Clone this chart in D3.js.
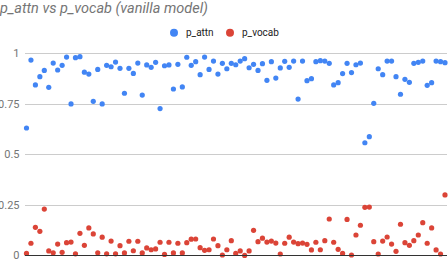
<!DOCTYPE html>
<head>
<meta charset="utf-8">
<script src="https://d3js.org/d3.v7.min.js"></script>
<style>
    body { margin: 0; background: #fff; }
    text { font-family: Roboto, Arial, sans-serif; }
</style>
</head>
<body>
<div id="chart"></div>
<script>
    // values, one per sample
    var pAttn = [0.63,0.966,0.843,0.884,0.915,0.831,0.951,0.917,0.940,0.981,
        0.749,0.978,0.983,0.906,0.897,0.762,0.920,0.749,0.940,0.933,
        0.956,0.925,0.802,0.925,0.900,0.951,0.793,0.942,0.930,0.955,
        0.726,0.938,0.942,0.823,0.945,0.833,0.980,0.940,0.958,0.894,
        0.981,0.920,0.961,0.897,0.950,0.923,0.950,0.943,0.961,0.973,
        0.928,0.945,0.915,0.948,0.866,0.958,0.877,0.927,0.960,0.930,
        0.961,0.773,0.961,0.864,0.874,0.958,0.963,0.961,0.950,0.843,
        0.854,0.899,0.950,0.904,0.943,0.951,0.557,0.587,0.752,0.923,
        0.894,0.961,0.961,0.884,0.797,0.871,0.856,0.950,0.955,0.961,
        0.841,0.854,0.961,0.958,0.953];
    var pVocab = [0.010,0.060,0.139,0.119,0.229,0.022,0.013,0.056,0.015,0.063,
        0.066,0.008,0.109,0.050,0.136,0.106,0.013,0.090,0.008,0.071,
        0.008,0.048,0.012,0.070,0.023,0.070,0.012,0.037,0.028,0.032,
        0.065,0.005,0.065,0.012,0.060,0.012,0.063,0.080,0.081,0.038,
        0.025,0.028,0.081,0.048,0.002,0.028,0.073,0.010,0.022,0.000,
        0.022,0.124,0.068,0.085,0.066,0.071,0.061,0.007,0.060,0.090,
        0.066,0.058,0.061,0.055,0.027,0.065,0.028,0.073,0.180,0.065,
        0.030,0.010,0.178,0.002,0.101,0.149,0.238,0.239,0.068,0.007,
        0.071,0.091,0.056,0.020,0.154,0.063,0.050,0.073,0.101,0.162,
        0.060,0.136,0.027,0.007,0.299];
    var yTicks = [0, 0.25, 0.5, 0.75, 1];
    var yTickLabels = ['0', '0.25', '0.5', '0.75', '1'];
    var seriesNames = ['p_attn', 'p_vocab'];
    var seriesColors = ['#4285f4', '#db4437'];

    var W = 448, H = 260;
    var svg = d3.select('#chart').append('svg').attr('width', W).attr('height', H);

    var x = d3.scaleLinear().domain([0, pAttn.length - 1]).range([26.5, 445]);
    var y = d3.scaleLinear().domain([0, 1]).range([255.4, 53.2]);

    // title
    svg.append('text').text('p_attn vs p_vocab (vanilla model)')
        .attr('x', 0).attr('y', 13)
        .attr('font-size', 14.5).attr('font-style', 'italic').attr('fill', '#757575');

    // legend
    var leg = svg.append('g');
    var legX = [174, 230];
    seriesNames.forEach(function(name, i){
        leg.append('circle').attr('cx', legX[i]).attr('cy', 32.7).attr('r', 4).attr('fill', seriesColors[i]);
        leg.append('text').text(name).attr('x', legX[i] + 12).attr('y', 36)
            .attr('font-size', 10).attr('fill', '#222');
    });

    // gridlines
    var grid = svg.append('g');
    grid.selectAll('line').data(yTicks.slice(1)).enter().append('line')
        .attr('x1', 25).attr('x2', 447)
        .attr('y1', d => Math.round(y(d)) + 0.5).attr('y2', d => Math.round(y(d)) + 0.5)
        .attr('stroke', '#ccc').attr('stroke-width', 1);

    // y axis labels
    svg.append('g').selectAll('text').data(yTicks).enter().append('text')
        .text((d, i) => yTickLabels[i])
        .attr('x', 19.5).attr('y', d => y(d) + 4)
        .attr('text-anchor', 'end').attr('font-size', 11).attr('fill', '#757575');

    // points
    var series = [pAttn, pVocab];
    series.forEach(function(vals, s){
        svg.append('g').selectAll('circle').data(vals).enter().append('circle')
            .attr('cx', (d, i) => x(i)).attr('cy', d => y(d))
            .attr('r', 2.6).attr('fill', seriesColors[s]);
    });

    // baseline
    svg.append('line').attr('x1', 25).attr('x2', 447)
        .attr('y1', 255.5).attr('y2', 255.5)
        .attr('stroke', '#333').attr('stroke-width', 1);
</script>
</body>
